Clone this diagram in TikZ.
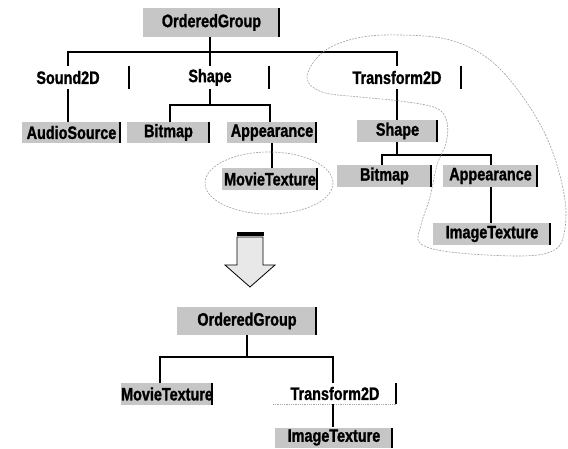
\documentclass[tikz,border=0pt]{standalone}
\usepackage{fontspec}
\setmainfont{Liberation Sans}[FakeStretch=0.8,FakeBold=1.2]
\newcommand{\lblfont}{\fontsize{18}{18}\selectfont\bfseries}
\begin{document}
\begin{tikzpicture}[x=1pt,y=-1pt,
  rbar/.style={path picture={\fill[black] ([xshift=-2.2pt]path picture bounding box.north east) rectangle (path picture bounding box.south east);}},
  gbox/.style={rectangle, fill=gray!45, inner sep=0pt, font=\lblfont, rbar},
  wbox/.style={rectangle, fill=white, inner sep=0pt, font=\lblfont,
    path picture={\fill[black] ([xshift=-2.2pt]path picture bounding box.north east) rectangle (path picture bounding box.south east);
      \draw[gray!70, line width=0.8pt, densely dotted] ([yshift=-0.6pt]path picture bounding box.south west) -- ([yshift=-0.6pt]path picture bounding box.south east);}},
  conn/.style={draw=black, line width=1.1pt},
  hint/.style={draw=gray!75, line width=0.6pt, dash pattern=on 2pt off 1.2pt}
]
\useasboundingbox (0,0) rectangle (568,449);

% ---------- upper tree ----------
\node[gbox, minimum width=137, minimum height=29] (og1) at (211.5,22.5) {OrderedGroup};
\node[wbox, minimum width=124, minimum height=23] (snd) at (68,77.5) {Sound2D};
\node[wbox, minimum width=120, minimum height=23] (shp1) at (210,77.5) {Shape};
\node[wbox, minimum width=130, minimum height=23] (tf1) at (397,77.5) {Transform2D};
\node[gbox, minimum width=99, minimum height=21] (aud) at (71.5,132.5) {AudioSource};
\node[gbox, minimum width=83, minimum height=21] (bm1) at (168.5,132.5) {Bitmap};
\node[gbox, minimum width=90, minimum height=21] (ap1) at (272,132.5) {Appearance};
\node[gbox, minimum width=96, minimum height=22] (mt1) at (270,179) {MovieTexture};
\node[gbox, minimum width=81, minimum height=22] (shp2) at (397.5,131) {Shape};
\node[gbox, minimum width=95, minimum height=22] (bm2) at (384.5,176) {Bitmap};
\node[gbox, minimum width=95, minimum height=22] (ap2) at (490.5,176) {Appearance};
\node[gbox, minimum width=118, minimum height=22] (im1) at (492,234) {ImageTexture};

\coordinate (j1) at (210,52);
\draw[conn] (og1.south -| j1) -- (j1);
\draw[conn] (snd.north) |- (j1) -| (tf1.north);
\draw[conn] (j1) -- (shp1.north);
\draw[conn] (snd.south) -- (snd.south |- aud.north);
\coordinate (j2) at (210,105);
\draw[conn] (shp1.south) -- (j2);
\draw[conn] ([xshift=1.5pt]bm1.north) |- (j2) -| ([xshift=-2pt]ap1.north);
\draw[conn] (ap1.south) -- (ap1.south |- mt1.north);
\draw[conn] (tf1.south) -- (tf1.south |- shp2.north);
\coordinate (j3) at (397,155);
\draw[conn] (shp2.south -| j3) -- (j3);
\draw[conn] ([xshift=-2.5pt]bm2.north) |- (j3) -| ([xshift=0.5pt]ap2.north);
\draw[conn] ([xshift=0.5pt]ap2.south) -- ([xshift=0.5pt]ap2.south |- im1.north);

% dashed outlines
\draw[hint] (269,183) ellipse [x radius=64, y radius=31];
\draw[hint] plot[smooth cycle, tension=0.6] coordinates {
  (307,77) (323,52) (357,38) (400,35) (450,40) (490,60) (523,97) (550,145)
  (565,200) (563,238) (550,252) (517,256) (450,252) (420,243) (421,225)
  (430,197) (437,165) (446,143) (447,122) (436,108) (400,101) (360,97) (322,92)};

% ---------- block arrow ----------
\draw[line width=0.8pt, fill=gray!18] (237,237) -- (263,237) -- (263,265) -- (275,265) -- (250,287) -- (225,265) -- (237,265) -- cycle;
\fill[black] (236.5,232) rectangle (263.5,236);

% ---------- lower tree ----------
\node[gbox, minimum width=140, minimum height=28] (og2) at (247,321) {OrderedGroup};
\node[gbox, minimum width=90, minimum height=22] (mt2) at (167,394) {MovieTexture};
\node[wbox, minimum width=124, minimum height=21] (tf2) at (335,393.5) {Transform2D};
\node[gbox, minimum width=118, minimum height=20] (im2) at (334,437.5) {ImageTexture};

\coordinate (j4) at (247,357);
\draw[conn] (og2.south) -- (j4);
\draw[conn] ([xshift=-7pt]mt2.north) |- (j4) -| ([xshift=-2pt]tf2.north);
\draw[conn] ([xshift=-2pt]tf2.south) -- ([xshift=-1pt]im2.north);
\end{tikzpicture}
\end{document}
